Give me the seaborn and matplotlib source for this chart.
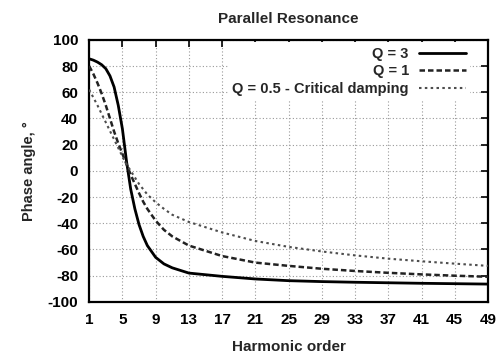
import pandas as pd
import seaborn as sns
import matplotlib.pyplot as plt

harmonic = [1, 1.5, 2, 2.5, 3, 3.5, 4, 4.5, 5, 5.5, 6, 6.5, 7, 7.5, 8, 9, 10, 11, 13,
            17, 21, 25, 29, 33, 37, 41, 45, 49]

# phase angle (degrees) for each quality factor
phase_q3 = [85.5, 84.5, 83, 81, 78, 72.5, 64, 50, 32, 7, -14, -29, -41, -50, -57, -66,
            -71, -74, -78, -80.5, -82.5, -83.8, -84.5, -85, -85.4, -85.8, -86.1, -86.4]
phase_q1 = [80, 74, 67, 59, 50, 40, 30, 21, 13, 5, -3, -10, -17, -23.5, -29, -38,
            -45, -50, -57, -65, -70, -72.5, -74.7, -76.4, -77.8, -79, -80, -80.8]
phase_q05 = [62, 56, 50, 43.5, 37, 30.5, 24, 17.5, 11, 5, 0, -5, -10, -14, -18, -24,
             -29, -33.5, -39, -47, -53.5, -58, -61.5, -64.5, -67, -69, -70.8, -72.5]

labels = ["Q = 3", "Q = 1", "Q = 0.5 - Critical damping"]
xticks = list(range(1, 50, 4))
yticks = list(range(-100, 101, 20))

n = len(harmonic)
df = pd.DataFrame({
    "harmonic": harmonic * 3,
    "phase": phase_q3 + phase_q1 + phase_q05,
    "series": [labels[0]] * n + [labels[1]] * n + [labels[2]] * n,
})

sns.set_style("white")
plt.rcParams["font.family"] = ["Liberation Sans", "DejaVu Sans"]
plt.rcParams["font.weight"] = "bold"
plt.rcParams["axes.unicode_minus"] = False

fig = plt.figure(figsize=(5.01, 3.62), dpi=100)
ax = fig.add_axes([0.178, 0.166, 0.796, 0.724])

styles = {
    labels[0]: dict(color="black", lw=2.0, ls="-"),
    labels[1]: dict(color="#222222", lw=1.8, ls=(0, (2.2, 1.2))),
    labels[2]: dict(color="#4d4d4d", lw=1.5, ls=(0, (1.2, 1.6))),
}
for name in labels:
    sub = df[df["series"] == name]
    st = styles[name]
    sns.lineplot(x="harmonic", y="phase", data=sub, ax=ax, color=st["color"],
                 linewidth=st["lw"], linestyle=st["ls"], label=name, zorder=3)

ax.set_xlim(1, 49)
ax.set_ylim(-100, 100)
ax.set_xticks(xticks)
ax.set_yticks(yticks)
ax.grid(True, color="#999999", linestyle=(0, (1, 2)), linewidth=0.8)
ax.set_axisbelow(True)
ax.tick_params(direction="in", top=True, right=True, length=5, width=1.2,
               labelsize=11, colors="black")
ax.tick_params(axis="y", pad=8)
ax.tick_params(axis="x", pad=8)
for s in ax.spines.values():
    s.set_linewidth(1.6)
    s.set_color("black")

ax.set_title("Parallel Resonance", fontsize=11, fontweight="bold", pad=12)
ax.set_xlabel("Harmonic order", fontsize=11, fontweight="bold", labelpad=9)
ax.set_ylabel("Phase angle, °", fontsize=10.5, fontweight="bold", labelpad=8)

leg = ax.legend(loc="upper right", bbox_to_anchor=(0.955, 0.99), markerfirst=False,
                frameon=True, fontsize=10.5, handlelength=3.2, handletextpad=0.7,
                labelspacing=0.25, borderaxespad=0, borderpad=0.3)
leg.get_frame().set_facecolor("white")
leg.get_frame().set_edgecolor("none")
leg.get_frame().set_alpha(1)

fig.savefig("out.png", dpi=100)
